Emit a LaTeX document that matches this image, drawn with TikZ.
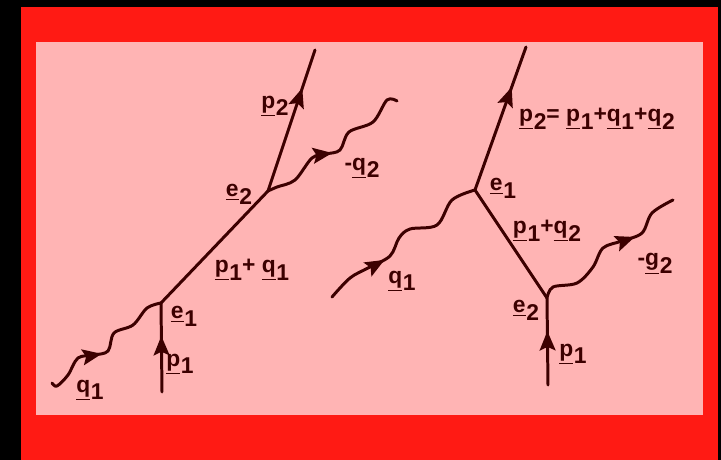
\documentclass[tikz,border=0pt]{standalone}
\usepackage{fontspec}
\setmainfont{Liberation Sans}
\usepackage{xcolor}
\usetikzlibrary{arrows.meta,decorations.markings}
\definecolor{framered}{HTML}{FF1A14}
\definecolor{panelpink}{HTML}{FFB4B4}
\definecolor{ink}{HTML}{3C0000}
\newcommand{\lett}[2]{\underline{#1}\kern0.4pt\raisebox{-4.5pt}{#2}}

\begin{document}
\begin{tikzpicture}[
  x=0.02cm, y=-0.02cm,
  lab/.style={font=\fontsize{13}{15}\selectfont\bfseries, text=ink, inner sep=0pt, align=center},
  line/.style={draw=ink, line width=1.7pt, line cap=round},
  wave/.style={line, smooth, tension=0.55},
  tipat/.style={postaction={decorate}, decoration={markings, mark=at position #1 with {\arrow{Stealth[length=11pt, width=9pt, inset=2pt]}}}}
]
\useasboundingbox (0,0) rectangle (721,460);
\fill[black] (0,0) rectangle (721,460);
\fill[framered] (21,7) rectangle (718,460);
\fill[panelpink] (36,42) rectangle (703,415);

% left diagram
\coordinate (la) at (161,303);
\coordinate (lb) at (268,191);
\coordinate (lp) at (162,392);
\coordinate (lo) at (315,50);
\coordinate (lq) at (52,383);
\coordinate (lr) at (397,101);
\draw[line, tipat=0.63] (lp) -- (la);
\draw[line] (la) -- (lb);
\draw[line, tipat=0.73] (lb) -- (lo);
\draw[wave, tipat=0.44] plot coordinates {(lq) (57,386) (68,375) (78,358) (94,355) (108,351) (114,333) (133,325) (147,308) (la)};
\draw[wave, tipat=0.46] plot coordinates {(lb) (277,187) (295,180) (312,158) (326,154) (340,150) (349,132) (373,122) (387,100) (lr)};
\node[lab] (le1) at (184,316) {\lett{e}{1}};
\node[lab] (lp1) at (180,364) {\lett{p}{1}};
\node[lab] (lq1) at (90,390) {\lett{q}{1}};
\node[lab] (lsum) at (252,270) {\lett{p}{1}+ \lett{q}{1}};
\node[lab] (le2) at (239,194) {\lett{e}{2}};
\node[lab] (lp2) at (275,106) {\lett{p}{2}};
\node[lab] (lq2) at (362,168) {-\lett{q}{2}};

% right diagram
\coordinate (ra) at (475,190);
\coordinate (rb) at (547,298);
\coordinate (rp) at (548,385);
\coordinate (ro) at (526,47);
\coordinate (rq) at (332,297);
\coordinate (rr) at (673,200);
\draw[line, tipat=0.62] (rp) -- (rb);
\draw[line] (rb) -- (ra);
\draw[line, tipat=0.72] (ra) -- (ro);
\draw[wave, tipat=0.345] plot coordinates {(rq) (350,278) (368,268) (390,256) (399,238) (410,229) (437,225) (452,200) (ra)};
\draw[wave, tipat=0.675] plot coordinates {(rb) (553,287) (577,283) (593,267) (603,248) (622,241) (642,233) (652,213) (rr)};
\node[lab] (re1) at (503,188) {\lett{e}{1}};
\node[lab] (rsum) at (547,231) {\lett{p}{1}+\lett{q}{2}};
\node[lab] (rq1) at (402,281) {\lett{q}{1}};
\node[lab] (re2) at (526,310) {\lett{e}{2}};
\node[lab] (rp1) at (573,354) {\lett{p}{1}};
\node[lab] (rg2) at (655,264) {-\lett{g}{2}};
\node[lab] (rtop) at (597,119) {\lett{p}{2}= \lett{p}{1}+\lett{q}{1}+\lett{q}{2}};
\end{tikzpicture}
\end{document}
